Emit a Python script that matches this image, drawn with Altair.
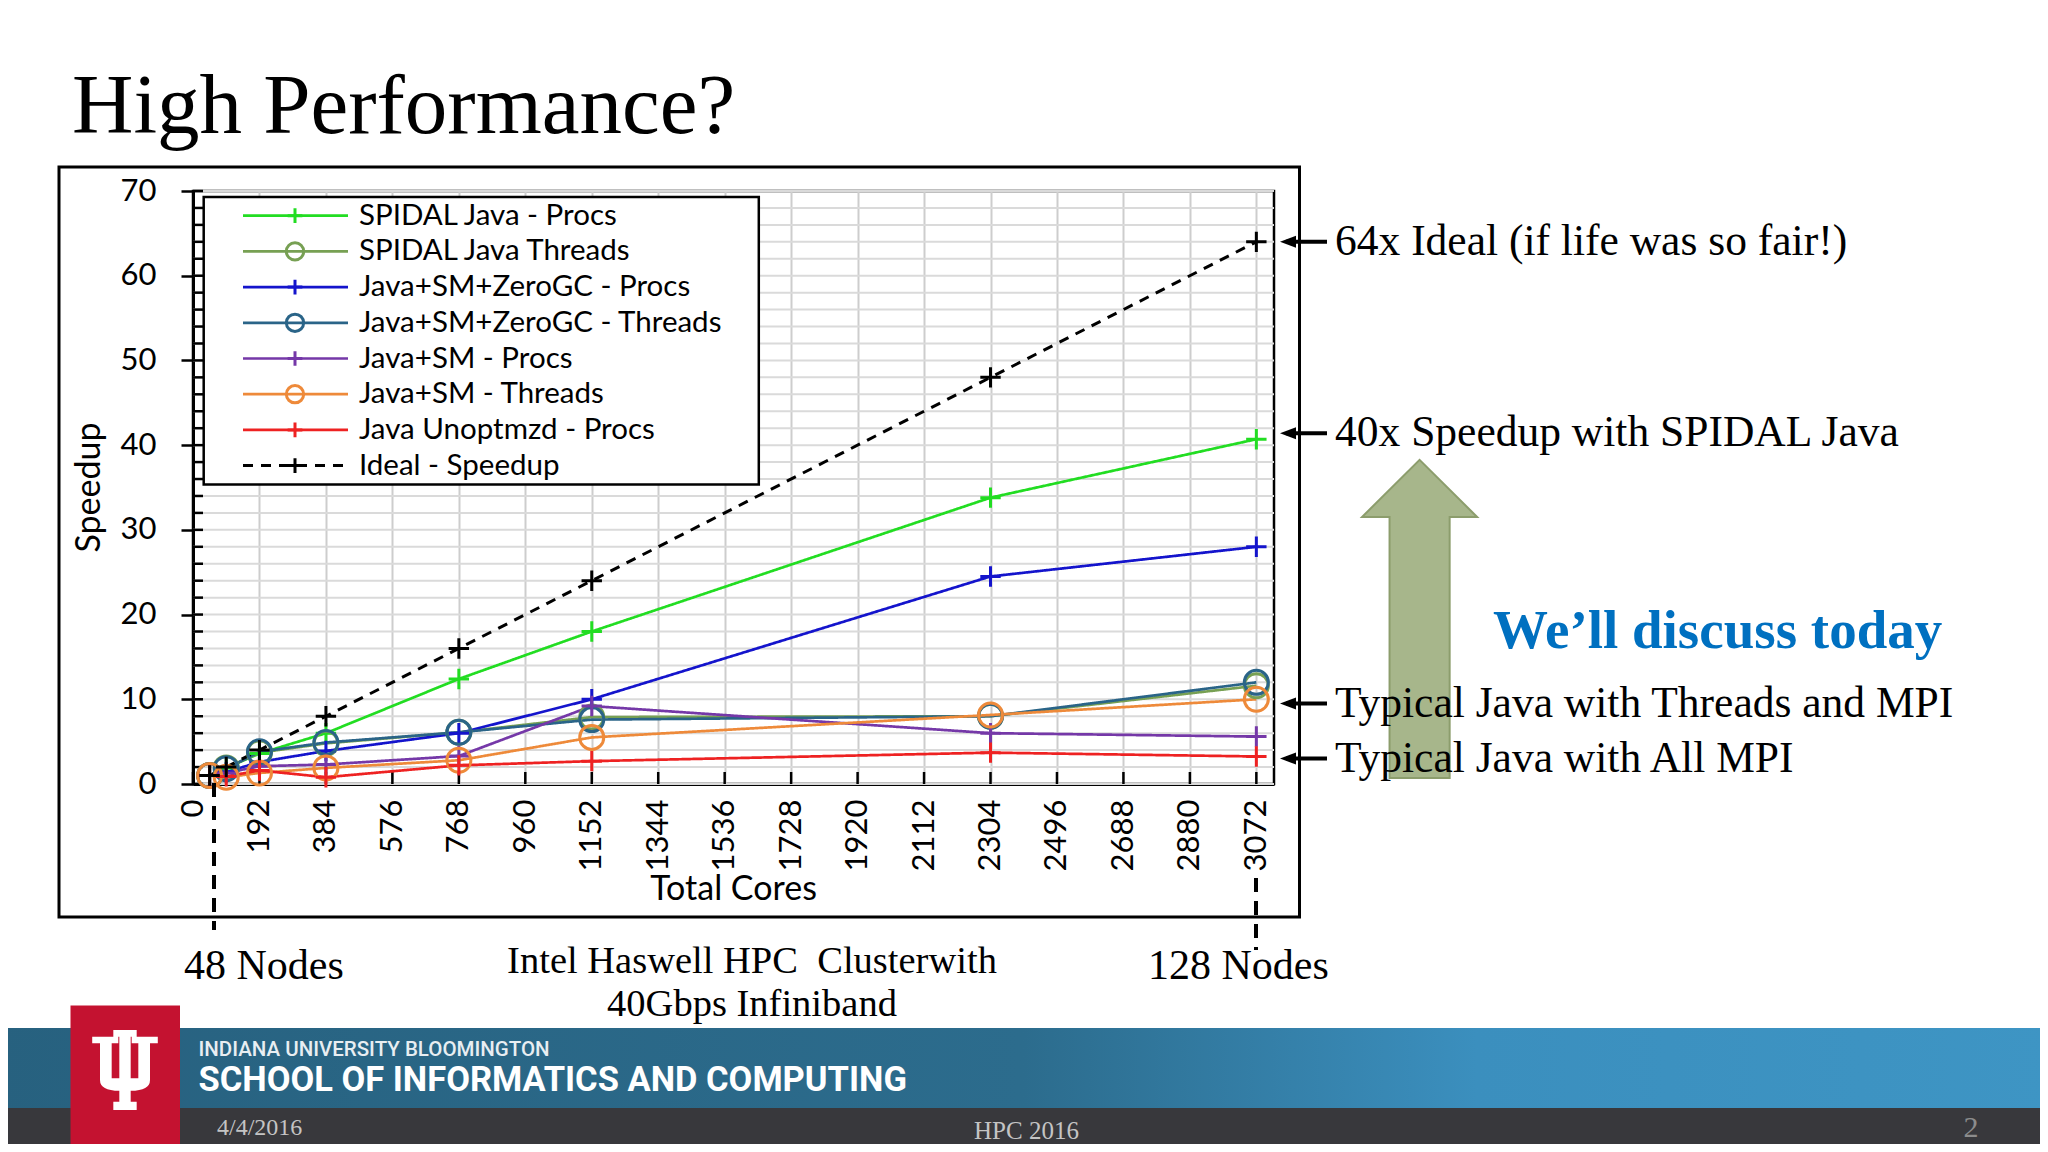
import altair as alt
import pandas as pd

# ---------------- data ----------------
cores = [48, 96, 192, 384, 768, 1152, 2304, 3072]
series_names = [
    "SPIDAL Java - Procs",
    "SPIDAL Java Threads",
    "Java+SM+ZeroGC - Procs",
    "Java+SM+ZeroGC - Threads",
    "Java+SM - Procs",
    "Java+SM - Threads",
    "Java Unoptmzd - Procs",
    "Ideal - Speedup",
]
spidal_procs = [1.0, 1.9, 3.6, 6.0, 12.4, 18.0, 33.8, 40.7]
spidal_threads = [1.0, 1.9, 3.7, 4.8, 6.1, 7.9, 8.0, 11.6]
zerogc_procs = [1.0, 1.4, 2.6, 3.9, 6.0, 10.0, 24.5, 28.0]
zerogc_threads = [1.0, 1.8, 3.8, 4.9, 6.1, 7.6, 8.0, 12.0]
sm_procs = [1.0, 1.3, 2.1, 2.3, 3.3, 9.2, 6.0, 5.6]
sm_threads = [1.0, 0.8, 1.3, 1.9, 2.8, 5.5, 8.15, 10.0]
unoptimized = [1.0, 0.9, 1.6, 0.8, 2.2, 2.7, 3.7, 3.25]
ideal = [1, 2, 4, 8, 16, 24, 48, 64]
series_values = [spidal_procs, spidal_threads, zerogc_procs, zerogc_threads,
                 sm_procs, sm_threads, unoptimized, ideal]
series_colors = ["#22dd22", "#77a053", "#1414cc", "#2a6488",
                 "#7538a8", "#ee8a3a", "#ee2222", "#000000"]
marker_kind = ["plus", "circle", "plus", "circle", "plus", "circle", "plus", "plus"]

x_tick_values = [0, 192, 384, 576, 768, 960, 1152, 1344, 1536, 1728,
                 1920, 2112, 2304, 2496, 2688, 2880, 3072]
y_label_values = [0, 10, 20, 30, 40, 50, 60, 70]
y_grid_values = list(range(0, 71, 2))

annotation_labels = ["64x Ideal (if life was so fair!)",
                     "40x Speedup with SPIDAL Java",
                     "Typical Java with Threads and MPI",
                     "Typical Java with All MPI"]
annotation_targets = [64, 41.4, 9.5, 3.0]

rows = []
for name, vals in zip(series_names, series_values):
    for c, v in zip(cores, vals):
        rows.append({"series": name, "cores": c, "speedup": v})
df = pd.DataFrame(rows)
leg_df = pd.DataFrame({"series": series_names})
ann_df = pd.DataFrame({"label": annotation_labels, "speedup": annotation_targets})
one = pd.DataFrame({"k": [0]})

# ---------------- shapes ----------------
PLUS = "M-0.85,0L0.85,0M0,-0.85L0,0.85"
CIRCLE = "M1,0A1,1,0,1,1,-1,0A1,1,0,1,1,1,0Z"
ARROW_HEAD = "M-1,0L1,-0.75L1,0.75Z"
BIG_ARROW = "M0,-1L0.362,-0.641L0.189,-0.641L0.189,1L-0.189,1L-0.189,-0.641L-0.362,-0.641Z"
TRIDENT = ("M-0.292,-1L0.292,-1L0.292,-0.833L0.142,-0.833L0.142,0.208L0.333,0.208"
           "L0.333,-0.667L0.167,-0.667L0.167,-0.833L0.82,-0.833L0.82,-0.667L0.625,-0.667"
           "L0.625,0.25Q0.625,0.52,0.142,0.52L0.142,0.792L0.292,0.792L0.292,1L-0.292,1"
           "L-0.292,0.792L-0.142,0.792L-0.142,0.52Q-0.625,0.52,-0.625,0.25L-0.625,-0.667"
           "L-0.82,-0.667L-0.82,-0.833L-0.167,-0.833L-0.167,-0.667L-0.333,-0.667L-0.333,0.208"
           "L-0.142,0.208L-0.142,-0.833L-0.292,-0.833Z")
shape_range = [PLUS if m == "plus" else CIRCLE for m in marker_kind]

# ---------------- scales / axes ----------------
x_scale = alt.Scale(domain=[0, 3123], nice=False, zero=False)
y_scale = alt.Scale(domain=[0, 70], nice=False)
x_axis = alt.Axis(values=x_tick_values, format="d", labelAngle=270, labelFontSize=31,
                  labelPadding=15, labelFlush=False, ticks=False, grid=True,
                  gridColor="#cdcdcd", gridWidth=2, domainWidth=3,
                  title="Total Cores", titleFontSize=34, titleFontWeight="normal",
                  titleX=540, titleY=105, titleBaseline="middle", titleAlign="center")
y_axis = alt.Axis(values=y_label_values, labelFontSize=31, labelPadding=25,
                  tickSize=12, tickWidth=2.5, grid=False, domainWidth=3,
                  title="Speedup", titleFontSize=34, titleFontWeight="normal",
                  titleX=-104, titleY=296, titleAngle=270, titleBaseline="middle",
                  titleAlign="center")
X = alt.X("cores:Q", scale=x_scale, axis=x_axis)
Y = alt.Y("speedup:Q", scale=y_scale, axis=y_axis)
color = alt.Color("series:N", scale=alt.Scale(domain=series_names, range=series_colors), legend=None)
shape = alt.Shape("series:N", scale=alt.Scale(domain=series_names, range=shape_range), legend=None)
is_ideal = alt.datum.series == "Ideal - Speedup"
dash = alt.condition(is_ideal, alt.value([10, 8]), alt.value([1, 0]))
swidth = alt.condition(is_ideal, alt.value(3), alt.value(2.7))

# ---------------- helpers for slide decoration ----------------
def label(text, x, y, size, font="Liberation Serif", align="left", weight="normal",
          color="black", baseline="middle"):
    return alt.Chart(one).mark_text(text=text, align=align, baseline=baseline, font=font,
                                    fontSize=size, fontWeight=weight, color=color).encode(
        x=alt.value(x), y=alt.value(y))


def box(x, x2, y, y2, **kw):
    return alt.Chart(one).mark_rect(**kw).encode(
        x=alt.value(x), x2=alt.value(x2), y=alt.value(y), y2=alt.value(y2))


# ---------------- plot layers ----------------
grid_df = pd.DataFrame({"speedup": y_grid_values})
xt_df = pd.DataFrame({"cores": x_tick_values})

ygrid = alt.Chart(grid_df).mark_rule(color="#dadada", strokeWidth=2).encode(y=Y)
yminor = alt.Chart(grid_df).mark_rule(color="black", strokeWidth=2.5).encode(
    y=Y, x=alt.value(0), x2=alt.value(10))
xinward = alt.Chart(xt_df).mark_rule(color="black", strokeWidth=2.5).encode(
    x=X, y=alt.value(593), y2=alt.value(581))

lines = alt.Chart(df).mark_line().encode(x=X, y=Y, color=color, strokeDash=dash, strokeWidth=swidth)
points = alt.Chart(df).mark_point(filled=False, size=576, opacity=1, strokeWidth=3).encode(
    x=X, y=Y, color=color, shape=shape)

# annotations tied to data scale
ann_rule = alt.Chart(ann_df).mark_rule(color="black", strokeWidth=4).encode(
    x=alt.value(1093), x2=alt.value(1134), y=Y)
ann_head = alt.Chart(ann_df).mark_point(shape=ARROW_HEAD, size=256, filled=True, color="black",
                                        opacity=1, strokeWidth=0).encode(x=alt.value(1095), y=Y)
ann_text = alt.Chart(ann_df).mark_text(align="left", baseline="middle", font="Liberation Serif",
                                       fontSize=43.5, color="black").encode(
    x=alt.value(1142), y=Y, text="label:N")

green_arrow = alt.Chart(one).mark_point(shape=BIG_ARROW, size=101124, filled=True, fill="#a7b68b",
                                        stroke="#8c9d6c", strokeWidth=2, opacity=1).encode(
    x=alt.value(1226.6), y=alt.value(427.9))

# footer
band = box(-200, 1860, 837, 917, fill=alt.Gradient(
    gradient="linear",
    stops=[alt.GradientStop(offset=0, color="#27617f"),
           alt.GradientStop(offset=0.5, color="#2c6c8d"),
           alt.GradientStop(offset=0.72, color="#3b8fbe"),
           alt.GradientStop(offset=1, color="#3e95c4")],
    x1=0, x2=1, y1=0, y2=0))
strip = box(-200, 1860, 917, 980, fill="#38383c")
iu_box = box(-122.5, -13, 814.6, 980, fill="#c41230")
trident = alt.Chart(one).mark_point(shape=TRIDENT, size=6400, filled=True, color="white",
                                    opacity=1, strokeWidth=0).encode(
    x=alt.value(-68), y=alt.value(879))

dashed_48 = alt.Chart(one).mark_rule(color="black", strokeWidth=4, strokeDash=[14, 9]).encode(
    x=alt.value(21), y=alt.value(592), y2=alt.value(739))
dashed_128 = alt.Chart(one).mark_rule(color="black", strokeWidth=4, strokeDash=[14, 9]).encode(
    x=alt.value(1063), y=alt.value(687), y2=alt.value(759))

outer_box = box(-134, 1106.5, -24, 726, fillOpacity=0, stroke="black", strokeWidth=3)

main = alt.layer(
    ygrid, yminor, xinward, lines, points,
    outer_box, band, strip, iu_box, trident,
    label("INDIANA UNIVERSITY BLOOMINGTON", 5.5, 859, 20.5, font="Roboto", weight=500, color="#e8eef2"),
    label("SCHOOL OF INFORMATICS AND COMPUTING", 5.5, 890, 34.5, font="Roboto", weight="bold", color="white"),
    label("4/4/2016", 24, 937, 24, color="#c4c4c4"),
    label("HPC 2016", 833.5, 940, 25, align="center", color="#c4c4c4"),
    label("2", 1778, 937, 30, align="center", color="#8c8c8c"),
    label("High Performance?", -121, -58, 85, baseline="alphabetic"),
    dashed_48, dashed_128,
    label("48 Nodes", -9, 775, 42),
    label("128 Nodes", 955, 775, 42),
    label("Intel Haswell HPC\u00a0 Clusterwith", 559, 770, 38.5, align="center"),
    label("40Gbps Infiniband", 559, 813, 38.5, align="center"),
    green_arrow,
    label("We\u2019ll discuss today", 1300, 440, 55, weight="bold", color="#0070c0"),
    ann_rule, ann_head, ann_text,
)

# ---------------- legend (manual, own y scale) ----------------
LY = alt.Y("series:N", scale=alt.Scale(type="point", domain=series_names, range=[24.7, 274.6], padding=0),
           axis=None)
leg_box = box(10.7, 565.8, 6, 293.5, fill="white", stroke="black", strokeWidth=2.5)
leg_rule = alt.Chart(leg_df).mark_rule().encode(
    x=alt.value(50), x2=alt.value(155), y=LY, color=color, strokeDash=dash, strokeWidth=swidth)
leg_pts = alt.Chart(leg_df).mark_point(filled=False, size=300, opacity=1, strokeWidth=3).encode(
    x=alt.value(102), y=LY, color=color, shape=shape)
leg_txt = alt.Chart(leg_df).mark_text(align="left", baseline="middle", font="Lato", fontSize=29.5,
                                      color="black").encode(x=alt.value(166), y=LY, text="series:N")
legend = alt.layer(leg_box, leg_rule, leg_pts, leg_txt)

chart = alt.layer(main, legend).resolve_scale(y="independent").properties(
    width=1081, height=593,
    autosize=alt.AutoSizeParams(type="none"),
    padding={"left": 185, "top": 183, "right": 766, "bottom": 360},
    background="white",
).configure_view(stroke="black", strokeWidth=2.5).configure_axis(
    labelFont="Lato", titleFont="Lato", labelColor="black", titleColor="black",
    domainColor="black", tickColor="black")

chart.save("out.html", embed_options={"renderer": "svg", "actions": False})
